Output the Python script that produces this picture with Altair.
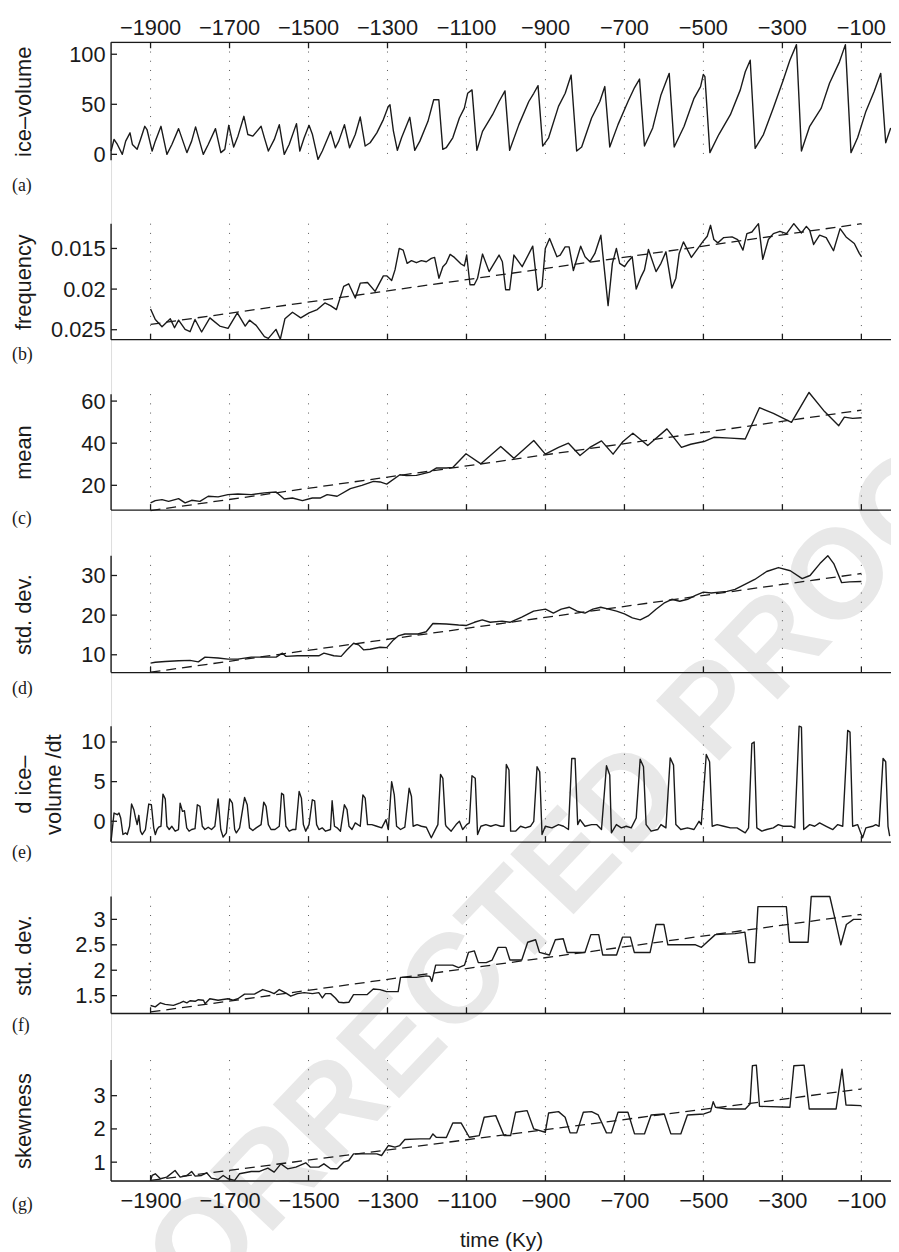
import altair as alt
import pandas as pd

# ---------------- data ----------------
X_TICKS = [-1900, -1700, -1500, -1300, -1100, -900, -700, -500, -300, -100]
X_LABELS = ["\u22121900", "\u22121700", "\u22121500", "\u22121300", "\u22121100",
            "\u2212900", "\u2212700", "\u2212500", "\u2212300", "\u2212100"]
X_DOMAIN = [-2000, -25]

ICE_VOLUME = [
    (-2000, 3.3), (-1992.5, 14.9), (-1984, 9.9), (-1971.5, 0), (-1963, 13.2), (-1952, 21.5),
    (-1946, 9.9), (-1934, 5), (-1925.5, 14.9), (-1914.6, 28), (-1909, 24.8), (-1896, 3.3),
    (-1888, 13.2), (-1873.6, 28), (-1858.6, 0), (-1846, 9.9), (-1829, 25.7), (-1808, 1.7),
    (-1796, 13.2), (-1786, 27.4), (-1766.5, 0), (-1754, 9.9), (-1735.6, 25.7), (-1722, 1.7),
    (-1712, 5), (-1702, 29), (-1689.5, 7.3), (-1678.7, 18.2), (-1663.6, 38), (-1653.6, 19.8),
    (-1641, 18.2), (-1620, 28), (-1611.7, 16.5), (-1601.7, 3.3), (-1586.6, 14.9), (-1574, 29.7),
    (-1561.5, 0), (-1549, 9.9), (-1530.5, 30.7), (-1522, 3.3), (-1511, 16.5), (-1498.7, 29),
    (-1490, 19.8), (-1476, -5), (-1465, 3.3), (-1444, 23), (-1432, 6.6), (-1423.4, 13.2),
    (-1409, 29.7), (-1396, 6.6), (-1381.6, 19.8), (-1369, 37.3), (-1356.5, 8.3), (-1344, 11.6),
    (-1327, 21.5), (-1310.5, 34.7), (-1298, 47.9), (-1293.7, 49.5), (-1285, 23.1), (-1275, 4),
    (-1264.4, 16.5), (-1243.5, 37), (-1231, 4), (-1218, 13.2), (-1197.5, 33), (-1183, 54.5),
    (-1170, 54.5), (-1160, 5), (-1151.4, 6.6), (-1134.7, 16.5), (-1118, 36.3), (-1105.4, 46.2),
    (-1097, 61), (-1086, 64.4), (-1073.6, 4), (-1059.4, 23), (-1034, 39.6), (-1017.5, 52.8),
    (-1002.5, 63.4), (-990.7, 4), (-967.3, 29.7), (-942.2, 52.8), (-929.6, 61), (-918.8, 68.6),
    (-907, 8.3), (-892, 16.5), (-867, 47.9), (-850, 61), (-835, 79.2), (-821, 3.3),
    (-808.3, 7.3), (-783.2, 36.3), (-762.3, 52.8), (-749.7, 67.7), (-737.2, 7.3), (-716.3, 29.7),
    (-691, 52.8), (-674.4, 66.7), (-661.8, 75.2), (-649.3, 8.3), (-628.4, 26.4), (-607.5, 59.4),
    (-586.6, 80.9), (-574, 7.3), (-548.9, 28), (-523.8, 56), (-507.2, 67.7), (-500.3, 79.9),
    (-496.2, 77.6), (-483.6, 1.7), (-461, 19.8), (-431.7, 39.6), (-406.6, 64.4), (-394, 82.5),
    (-381.5, 94), (-369, 6), (-348, 19.8), (-323, 46.2), (-297.8, 74.3), (-281.1, 94),
    (-264.4, 109.6), (-251.8, 3.3), (-230.9, 28), (-201.6, 46.2), (-180.7, 71), (-155.5, 92.4),
    (-140.5, 109.6), (-126.3, 1.7), (-109.6, 16.5), (-88.6, 42.9), (-67.7, 62.7), (-51, 80.9),
    (-38.4, 11.6), (-25.8, 26.4),
]

FREQUENCY = [
    (-1900, 0.02244), (-1888, 0.02374), (-1871, 0.02463), (-1850, 0.02366), (-1839.3, 0.02476),
    (-1829, 0.02382), (-1812.5, 0.02496), (-1800, 0.02524), (-1787.4, 0.02374), (-1770.7, 0.02528),
    (-1749.8, 0.02354), (-1724.7, 0.02455), (-1703.8, 0.02484), (-1680.3, 0.02293), (-1660.3, 0.02455),
    (-1649.4, 0.02382), (-1632.6, 0.02447), (-1611.7, 0.02585), (-1601.7, 0.02606), (-1582.4, 0.02496),
    (-1571.5, 0.02618), (-1559.8, 0.02366), (-1540.6, 0.02285), (-1519.7, 0.02354), (-1498.7, 0.02293),
    (-1477.8, 0.02252), (-1458.6, 0.02171), (-1444.4, 0.02203), (-1429.3, 0.02252), (-1410.9, 0.01967),
    (-1398.3, 0.01935), (-1381.6, 0.0211), (-1369, 0.01927), (-1350.6, 0.01919), (-1331.4, 0.02028),
    (-1310.5, 0.01837), (-1302, 0.01837), (-1289.5, 0.01894), (-1281, 0.01764), (-1270.3, 0.015),
    (-1260.3, 0.0152), (-1250.3, 0.01683), (-1239.3, 0.0165), (-1226.8, 0.01675), (-1214.2, 0.0165),
    (-1201.7, 0.01663), (-1189, 0.01622), (-1180.7, 0.0161), (-1169.8, 0.01866), (-1159.8, 0.01724),
    (-1151.4, 0.01683), (-1141.4, 0.01573), (-1130.5, 0.0161), (-1113.7, 0.01691), (-1105.4, 0.01715),
    (-1099.5, 0.01581), (-1091.1, 0.01947), (-1080.3, 0.01947), (-1071.9, 0.01866), (-1059.4, 0.01569),
    (-1042.6, 0.01785), (-1017.5, 0.01581), (-1009.1, 0.01663), (-1000.8, 0.02008), (-990.7, 0.02008),
    (-979.9, 0.01581), (-958.9, 0.01724), (-932.2, 0.01472), (-919.6, 0.02016), (-908.7, 0.01967),
    (-900.4, 0.015), (-889.5, 0.01378), (-871, 0.01602), (-862.7, 0.01581), (-850.2, 0.0148),
    (-840.1, 0.0148), (-829.3, 0.01772), (-810.8, 0.01472), (-799.8, 0.01602), (-787.3, 0.01663),
    (-774.8, 0.01561), (-759.7, 0.01337), (-741.4, 0.02203), (-730.5, 0.01683), (-720.4, 0.015),
    (-712.1, 0.01683), (-699.5, 0.01724), (-691.2, 0.01663), (-680.3, 0.01602), (-670.2, 0.02),
    (-657.7, 0.01846), (-649.3, 0.01764), (-639.2, 0.01512), (-620, 0.01785), (-607.5, 0.01683),
    (-594.9, 0.01541), (-579.8, 0.01988), (-569.8, 0.01866), (-561.4, 0.01561), (-550.6, 0.01419),
    (-530.5, 0.0161), (-511.2, 0.0148), (-498.7, 0.01398), (-490.3, 0.0135), (-481.9, 0.01215),
    (-473.6, 0.0139), (-463.5, 0.01431), (-448.5, 0.01366), (-427.5, 0.01358), (-413.3, 0.0139),
    (-399.9, 0.0152), (-389.9, 0.01317), (-377.3, 0.01297), (-360.6, 0.01195), (-349.7, 0.01634),
    (-335.5, 0.0139), (-322.9, 0.01317), (-306.2, 0.01289), (-289.5, 0.01317), (-271.1, 0.01195),
    (-251.8, 0.01309), (-239.3, 0.01228), (-230.9, 0.01276), (-220.9, 0.01451), (-205.8, 0.01337),
    (-189.1, 0.01366), (-170.6, 0.01528), (-153.9, 0.01256), (-138.8, 0.01358), (-117.9, 0.01439),
    (-105.3, 0.01561), (-99.5, 0.01602),
]
FREQUENCY_TREND = [(-1900, 0.02435), (-100, 0.01195)]

MEAN = [
    (-1900, 11.65), (-1888, 12.76), (-1871, 13.2), (-1854.4, 12.4), (-1829, 13.7), (-1812.5, 11.65),
    (-1796, 12.9), (-1775, 12.4), (-1754, 14.8), (-1729, 14.5), (-1704, 15.6), (-1679, 15.9),
    (-1645, 15.6), (-1612, 16.4), (-1582, 16.85), (-1561.5, 13.5), (-1540.6, 14), (-1515.5, 12.76),
    (-1490.4, 14), (-1469.5, 14), (-1452.7, 15.6), (-1427.6, 14.8), (-1394, 18.4), (-1364.9, 20),
    (-1335.6, 21.9), (-1318.8, 21.6), (-1302, 20.6), (-1268.6, 25), (-1251.9, 24.6), (-1226.8, 24.7),
    (-1193.3, 26.3), (-1176.6, 28.2), (-1151.4, 28.2), (-1134.7, 28.5), (-1101.2, 35), (-1063.5, 30.2),
    (-1013.3, 38.4), (-979.9, 32.9), (-929.6, 41.3), (-900.4, 34.8), (-866.9, 38), (-841.8, 40),
    (-812.5, 34.2), (-787.5, 38), (-758.1, 41.1), (-728.8, 34.8), (-703.7, 40.8), (-678.6, 44.7),
    (-641, 38.9), (-592.4, 46.8), (-555.6, 38), (-532.2, 39.5), (-498.7, 40.8), (-473.6, 42.8),
    (-431.7, 42.4), (-394, 42), (-358.1, 56.85), (-322.9, 54.2), (-277, 49.9), (-232.6, 64.1),
    (-193.2, 55), (-157.3, 48.3), (-143.1, 52.4), (-122.1, 51.8), (-99.5, 52.1),
]
MEAN_TREND = [(-1900, 8.0), (-100, 55.7)]

STD_DEV = [
    (-1900, 7.9), (-1888, 8.1), (-1863, 8.3), (-1829, 8.5), (-1800, 8.6), (-1779, 8.2), (-1762, 9.4),
    (-1729, 9.2), (-1704, 8.9), (-1679, 8.9), (-1645, 9.4), (-1612, 9.4), (-1582, 9.4), (-1566, 10.4),
    (-1557, 9.6), (-1528, 9.75), (-1503, 9.75), (-1474, 9.75), (-1461, 10.4), (-1436, 9.75),
    (-1417.5, 9.6), (-1402.5, 11.25), (-1385.8, 12.9), (-1373, 12.5), (-1360.7, 11.25), (-1344, 11.4),
    (-1319, 11.9), (-1302, 11.8), (-1285, 13.75), (-1273, 14.75), (-1256, 15.25), (-1223, 15.25),
    (-1202, 15.8), (-1185, 17.9), (-1151, 17.75), (-1120, 17.5), (-1100, 17.4), (-1080, 18.2),
    (-1060, 18.8), (-1040, 18.2), (-1010, 18.5), (-990, 18.2), (-960, 19.5), (-930, 21),
    (-900, 21.5), (-880, 20.5), (-860, 21.5), (-840, 22), (-820, 21), (-800, 20.5), (-780, 21.5),
    (-760, 22), (-740, 21.5), (-720, 21), (-700, 20.3), (-680, 19.3), (-660, 18.8), (-640, 19.8),
    (-620, 21.5), (-600, 23), (-580, 24), (-560, 23.5), (-540, 24), (-520, 25), (-500, 25.8),
    (-480, 25.6), (-460, 25.8), (-440, 26), (-420, 26.5), (-400, 27.5), (-370, 29), (-340, 31),
    (-310, 32), (-280, 31.2), (-250, 29.2), (-230, 30), (-205, 33), (-185, 35), (-170, 33),
    (-150, 28.2), (-130, 28.4), (-100, 28.5),
]
STD_DEV_TREND = [(-1900, 5.6), (-100, 30.5)]

DVDT = [
    (-2000, -2.5), (-1992.5, 1.04), (-1984.1, 0.83), (-1979.9, 1.04), (-1975.7, 0.42), (-1969.9, -1.67),
    (-1963.2, -1.46), (-1959, -1.67), (-1953.1, -0.63), (-1948.1, 2.17), (-1942.3, 1.46), (-1938.1, 0.42),
    (-1933.9, -0.42), (-1929.7, 0.75), (-1925.5, -1.25), (-1921.3, -1.67), (-1913, -1.04), (-1904.6, 2.17),
    (-1897.9, 2.08), (-1892, -0.83), (-1887.9, -1.67), (-1883.7, -1.04), (-1879.5, -0.75), (-1873.6, -0.63),
    (-1868.6, 3.42), (-1862.8, 2.83), (-1858.6, -0.63), (-1852.7, -1.04), (-1846, -0.63), (-1837.7, -1.25),
    (-1829.3, -1.04), (-1825.1, 2.29), (-1819.2, 1.25), (-1814.2, 1.33), (-1808.4, -0.83), (-1802.5, -1.25),
    (-1795.8, -1.04), (-1787.4, -0.92), (-1781.6, 2.08), (-1774.9, 1.88), (-1769, -0.63), (-1762.3, -1.04),
    (-1754, -0.75), (-1745.6, -1.04), (-1737.2, -0.63), (-1728.9, 2.83), (-1722.2, -1.04), (-1716.3, -2.0),
    (-1708, -1.46), (-1699.6, 2.83), (-1692.9, 2.29), (-1687, -1.04), (-1682.8, -1.46), (-1674.5, -0.83),
    (-1661.9, 3.0), (-1655.2, 2.08), (-1649.4, -0.83), (-1641, -1.17), (-1632.6, -0.83), (-1620.1, -0.42),
    (-1613.4, 2.42), (-1607.5, 1.88), (-1601.7, -0.42), (-1595, -1.04), (-1584.9, -1.04), (-1574, -0.63),
    (-1568.2, 3.54), (-1563.2, 3.33), (-1557.3, -0.63), (-1548.9, -1.25), (-1540.6, -1.04), (-1532.2, -1.04),
    (-1523.8, 3.75), (-1518, 2.92), (-1513, -0.42), (-1507.1, -1.25), (-1498.7, -0.42), (-1490.4, 2.71),
    (-1484.5, 2.58), (-1479.5, -0.42), (-1473.6, -1.04), (-1465.3, -0.83), (-1456.9, -1.25), (-1444.4, -1.04),
    (-1440.2, 2.58), (-1434.3, -0.63), (-1427.6, -0.83), (-1419.2, -1.25), (-1409.2, 2.08), (-1402.5, 1.46),
    (-1397.5, -0.63), (-1389.9, -1.04), (-1381.6, -0.21), (-1369, -0.63), (-1362.3, 3.33), (-1356.5, 2.92),
    (-1350.6, -0.42), (-1339.7, -0.42), (-1327.2, -0.63), (-1314.6, -0.83), (-1303.8, 0.21), (-1297.9, -1.04),
    (-1289.5, 5.0), (-1282.8, 3.33), (-1277, -0.63), (-1266.9, -1.04), (-1256.1, -0.75), (-1245.2, 4.17),
    (-1239.3, 3.13), (-1235.1, -0.63), (-1225.1, -0.42), (-1214.2, -0.63), (-1201.7, -0.75), (-1189.1, -2.08),
    (-1180.8, -1.25), (-1172.4, -0.42), (-1165.7, 5.92), (-1159.8, 5.42), (-1153.1, -0.42),
    (-1151.4, -0.63), (-1138.8, -1.25), (-1126.3, -0.42), (-1117.9, 0), (-1109.6, -1.04), (-1099.5, -0.42),
    (-1092.8, -0.21), (-1086.1, 5.75), (-1077.8, 5.42), (-1071.9, -1.67), (-1063.5, -0.63), (-1051, -0.42),
    (-1038.4, -0.63), (-1025.9, -0.42), (-1013.3, -0.63), (-1005, -0.63), (-999.1, 7.17), (-992.4, 6.46),
    (-988.2, -1.25), (-975.7, -1.25), (-963.1, -0.63), (-950.6, -0.83), (-938, -0.63), (-929.6, 0),
    (-921.3, 6.88), (-914.6, 6.25), (-908.7, -1.67), (-900.4, -0.63), (-883.6, -0.83), (-866.9, -0.42),
    (-854.3, -0.63), (-841.8, -1.04), (-833.4, 7.92), (-825, 7.92), (-818.4, -0.42), (-812.5, 0.21),
    (-800, -0.63), (-783.2, -0.42), (-770.6, -0.42), (-758.1, -1.04), (-745.5, 7.0), (-737.2, 5.83),
    (-733, -1.46), (-720.4, -0.42), (-707.9, -0.83), (-695.3, -0.63), (-682.8, -0.83), (-670.2, 0.42),
    (-660.2, 7.83), (-651.8, 6.88), (-645.1, -0.42), (-632.6, -1.25), (-615.8, -1.04), (-607.5, -0.42),
    (-595, -0.83), (-584.1, 8.0), (-575.7, 7.08), (-569.8, -0.42), (-557.3, -1.04), (-540.5, -0.83),
    (-523.8, -1.04), (-511.2, 0), (-505.4, -0.42), (-492.8, 8.42), (-484.4, 7.5), (-477.8, -0.63),
    (-465.2, -0.42), (-448.5, -0.63), (-431.7, -0.83), (-415, -0.83), (-394.1, -1.46), (-385.7, -0.83),
    (-377.4, 9.79), (-371.5, 10.0), (-364.8, -0.83), (-352.2, -1.25), (-339.7, -1.04), (-323, -0.83),
    (-310.4, -0.42), (-297.8, -0.63), (-285.3, -0.63), (-276.9, -0.63), (-268.6, -0.83), (-257.7, 12.0),
    (-251.8, 11.88), (-246, -1.04), (-230.9, -0.42), (-218.3, -0.63), (-205.8, -0.21), (-189.1, -0.63),
    (-172.3, -1.04), (-159.8, -0.42), (-147.2, -0.63), (-134.7, 11.46), (-128.8, 11.25), (-122.1, -0.63),
    (-109.6, -0.42), (-97, -2.08), (-88.6, -0.83), (-71.9, -0.63), (-63.5, -0.42), (-55.1, -0.63),
    (-45.1, 7.92), (-38.4, 7.5), (-32.6, -0.63), (-28.3, -1.88),
]

STD_DEV_DVDT = [
    (-1900, 1.307), (-1888, 1.28), (-1875, 1.36), (-1863, 1.33), (-1842, 1.31), (-1825, 1.36),
    (-1817, 1.39), (-1808, 1.36), (-1800, 1.40), (-1787, 1.39), (-1779, 1.42), (-1766, 1.41),
    (-1762, 1.34), (-1750, 1.44), (-1729, 1.41), (-1704, 1.44), (-1691, 1.41), (-1679, 1.44),
    (-1662, 1.53), (-1637, 1.53), (-1616, 1.62), (-1599, 1.58), (-1587, 1.54), (-1574, 1.62),
    (-1557, 1.55), (-1545, 1.49), (-1528, 1.54), (-1511, 1.56), (-1490, 1.54), (-1474, 1.56),
    (-1465, 1.455), (-1457, 1.54), (-1444, 1.54), (-1432, 1.455), (-1423, 1.37), (-1411, 1.36),
    (-1398, 1.37), (-1386, 1.52), (-1373, 1.52), (-1352, 1.52), (-1336, 1.63), (-1319, 1.62),
    (-1302, 1.58), (-1273, 1.58), (-1267, 1.86), (-1227, 1.86), (-1202, 1.89), (-1193, 1.88),
    (-1187.6, 1.78), (-1178, 2.1), (-1151, 2.1), (-1135, 2.1), (-1120, 2.05), (-1105, 2.1),
    (-1095, 2.35), (-1080, 2.38), (-1070, 2.15), (-1050, 2.15), (-1035, 2.2), (-1020, 2.45),
    (-1000, 2.45), (-990, 2.2), (-960, 2.2), (-945, 2.55), (-925, 2.6), (-915, 2.35), (-890, 2.3),
    (-875, 2.6), (-855, 2.62), (-845, 2.35), (-800, 2.35), (-785, 2.7), (-765, 2.7), (-755, 2.3),
    (-720, 2.3), (-705, 2.65), (-685, 2.65), (-675, 2.35), (-635, 2.35), (-620, 2.9), (-600, 2.9),
    (-590, 2.5), (-520, 2.5), (-505, 2.45), (-470, 2.7), (-420, 2.72), (-395, 2.75), (-385, 2.15),
    (-370, 2.15), (-362, 3.25), (-290, 3.25), (-282, 2.55), (-235, 2.55), (-227, 3.45), (-180, 3.45),
    (-165, 2.95), (-152, 2.5), (-138, 2.9), (-120, 3.0), (-100, 3.0),
]
STD_DEV_DVDT_TREND = [(-1900, 1.18), (-100, 3.1)]

SKEWNESS = [
    (-1900, 0.45), (-1896, 0.6), (-1888, 0.65), (-1875, 0.5), (-1859, 0.55), (-1838, 0.75),
    (-1825, 0.55), (-1808, 0.6), (-1796, 0.72), (-1787, 0.58), (-1771, 0.6), (-1758, 0.68),
    (-1746, 0.52), (-1729, 0.48), (-1716, 0.6), (-1704, 0.5), (-1687, 0.45), (-1675, 0.65),
    (-1645, 0.72), (-1624, 0.72), (-1603, 0.82), (-1587, 0.7), (-1570, 0.95), (-1553, 0.8),
    (-1532, 0.85), (-1507, 0.98), (-1495, 0.85), (-1474, 0.85), (-1461, 0.95), (-1444, 0.8),
    (-1427, 0.8), (-1411, 1.0), (-1398, 1.05), (-1386, 1.25), (-1361, 1.25), (-1327, 1.25),
    (-1315, 1.2), (-1298, 1.5), (-1281, 1.45), (-1269, 1.5), (-1256, 1.68), (-1218, 1.7),
    (-1193, 1.7), (-1185, 1.85), (-1176.6, 1.75), (-1151, 1.74), (-1134.7, 2.18), (-1113.7, 2.18),
    (-1092.8, 1.75), (-1067.7, 1.8), (-1055.2, 2.35), (-1025.9, 2.4), (-1005, 1.8), (-988.2, 1.8),
    (-975.7, 2.5), (-946.4, 2.55), (-929.6, 2.0), (-900.4, 1.9), (-892, 2.48), (-866.9, 2.52),
    (-850.2, 2.35), (-837.6, 1.88), (-820.9, 1.88), (-804.1, 2.5), (-783.2, 2.52), (-766.4, 2.42),
    (-745.5, 1.88), (-733, 1.88), (-716.3, 2.5), (-691.2, 2.5), (-674.4, 1.85), (-649.3, 1.85),
    (-632.5, 2.42), (-599.1, 2.45), (-582.4, 1.85), (-557.3, 1.85), (-540.5, 2.42), (-498.7, 2.45),
    (-481.9, 2.52), (-475.2, 2.82), (-469.4, 2.65), (-440, 2.6), (-394, 2.6), (-382, 2.75),
    (-376, 3.9), (-366, 3.92), (-358, 2.68), (-281, 2.65), (-271, 3.9), (-245, 3.92), (-232, 2.6),
    (-164, 2.6), (-149, 3.8), (-139, 2.72), (-100, 2.7),
]
SKEWNESS_TREND = [(-1900, 0.45), (-100, 3.2)]

# ---------------- style / geometry ----------------
FONT = "Liberation Sans"
SERIF = "Liberation Serif"
INK = "#1a1a1a"
PLOT_W = 787
PLOT_H = 1149
XS = alt.Scale(domain=X_DOMAIN, nice=False, zero=False)

# one shared bottom axis definition, used by every x encoding so they merge cleanly
XAXIS = alt.Axis(orient="bottom", values=X_TICKS, format="d", tickSize=0, domain=False,
                 grid=False, labelPadding=10, labelFont=FONT, labelFontSize=22,
                 labelColor=INK, title="time (Ky)", titleFont=FONT, titleFontSize=21,
                 titleFontWeight="normal", titleColor=INK, titleY=60,
                 titleBaseline="middle", zindex=2)


def panel(series, trend, dom, rng, yticks, yfmt, title, title_x, tag, tag_dy,
          top_frame=False, bottom_frame=True, line_h=26):
    # dom = (value at bottom edge, value at top edge); rng = (bottom px, top px)
    bot, top = dom
    ys = alt.Scale(domain=[bot, top], range=rng, nice=False, zero=False)
    ymid = (rng[0] + rng[1]) / 2
    yaxis = alt.Axis(orient="left", values=yticks, format=yfmt, tickSize=0, domain=False,
                     grid=False, labelPadding=6, labelFont=FONT, labelFontSize=22,
                     labelColor=INK, title=title, titleFont=FONT, titleFontSize=22,
                     titleFontWeight="normal", titleColor=INK, titleX=title_x, titleY=ymid,
                     titleAngle=270, titleBaseline="middle", titleLineHeight=line_h, zindex=2)

    def X(field):
        return alt.X(field, scale=XS, axis=XAXIS)

    def Y(field):
        return alt.Y(field, scale=ys, axis=yaxis)

    layers = []
    grid_df = pd.DataFrame({"tick": X_TICKS, "bot": bot, "top": top})
    layers.append(
        alt.Chart(grid_df).mark_rule(color="#555555", strokeWidth=1, strokeDash=[1, 8.3]).encode(
            x=X("tick:Q"), y=Y("top:Q"), y2="bot:Q")
    )
    df = pd.DataFrame(series, columns=["t", "v"])
    layers.append(
        alt.Chart(df).mark_line(color=INK, strokeWidth=1.4, strokeJoin="round").encode(
            x=X("t:Q"), y=Y("v:Q"))
    )
    if trend is not None:
        tdf = pd.DataFrame(trend, columns=["t", "v"])
        layers.append(
            alt.Chart(tdf).mark_line(color=INK, strokeWidth=1.3, strokeDash=[10, 6]).encode(
                x=X("t:Q"), y=Y("v:Q"))
        )
    frame_df = pd.DataFrame({"x0": [X_DOMAIN[0]], "x1": [X_DOMAIN[1]], "bot": [bot], "top": [top]})
    layers.append(
        alt.Chart(frame_df).mark_rule(color=INK, strokeWidth=1.4).encode(
            x=X("x0:Q"), y=Y("bot:Q"), y2="top:Q")
    )
    if bottom_frame:
        layers.append(
            alt.Chart(frame_df).mark_rule(color=INK, strokeWidth=1.4).encode(
                x=X("x0:Q"), x2="x1:Q", y=Y("bot:Q"))
        )
        tick_df = pd.DataFrame({"tick": X_TICKS, "bot": bot})
        layers.append(
            alt.Chart(tick_df).mark_rule(color=INK, strokeWidth=1.3, y2Offset=-6).encode(
                x=X("tick:Q"), y=Y("bot:Q"), y2="bot:Q")
        )
    if top_frame:
        layers.append(
            alt.Chart(frame_df).mark_rule(color=INK, strokeWidth=1.4).encode(
                x=X("x0:Q"), x2="x1:Q", y=Y("top:Q"))
        )
        ttick_df = pd.DataFrame({"tick": X_TICKS, "top": top, "label": X_LABELS})
        layers.append(
            alt.Chart(ttick_df).mark_rule(color=INK, strokeWidth=1.3, y2Offset=6).encode(
                x=X("tick:Q"), y=Y("top:Q"), y2="top:Q")
        )
        layers.append(
            alt.Chart(ttick_df).mark_text(font=FONT, fontSize=22, color=INK, baseline="alphabetic",
                                          dy=-7).encode(
                x=X("tick:Q"), y=Y("top:Q"), text="label:N")
        )
    ytick_df = pd.DataFrame({"yt": yticks, "x0": X_DOMAIN[0]})
    layers.append(
        alt.Chart(ytick_df).mark_rule(color=INK, strokeWidth=1.3, x2Offset=6).encode(
            x=X("x0:Q"), x2="x0:Q", y=Y("yt:Q"))
    )
    tag_df = pd.DataFrame({"tag": [tag], "x0": [X_DOMAIN[0]], "bot": [bot]})
    layers.append(
        alt.Chart(tag_df).mark_text(font=SERIF, fontSize=18, color=INK, align="left",
                                    baseline="middle", dx=-100, dy=tag_dy).encode(
            x=X("x0:Q"), y=Y("bot:Q"), text="tag:N")
    )
    return alt.layer(*layers)


watermark = alt.Chart(pd.DataFrame({"w": ["UNCORRECTED PROOF"]})).mark_text(
    font=FONT, fontSize=128, fontWeight="bold", color="#e8e8e8", angle=313.5,
    align="center", baseline="middle").encode(
    x=alt.value(382), y=alt.value(914), text="w:N")

pa = panel(ICE_VOLUME, None, (-5.9, 111.9), [119, 0], [0, 50, 100], "d", "ice\u2013volume",
           -88, "(a)", 26, top_frame=True, bottom_frame=False)
pb = panel(FREQUENCY, FREQUENCY_TREND, (0.02622, 0.01195), [300, 183], [0.015, 0.02, 0.025], "~g",
           "frequency", -88, "(b)", 16)
pc = panel(MEAN, MEAN_TREND, (8.24, 63.3), [472, 355], [20, 40, 60], "d", "mean", -88, "(c)", 9)
pd_ = panel(STD_DEV, STD_DEV_TREND, (5.5, 35), [636, 518], [10, 20, 30], "d", "std. dev.", -88,
            "(d)", 17)
pe = panel(DVDT, None, (-2.625, 12), [807, 690], [0, 5, 10], "d", ["d ice\u2013", "volume /dt"],
           -88, "(e)", 11, line_h=30)
pf = panel(STD_DEV_DVDT, STD_DEV_DVDT_TREND, (1.149, 3.448), [980, 862], [1.5, 2, 2.5, 3], "~g",
           "std. dev.", -88, "(f)", 13)
pg = panel(SKEWNESS, SKEWNESS_TREND, (0.433, 4.07), [1149, 1027], [1, 2, 3], "d", "skewness", -88,
           "(g)", 24)

chart = alt.layer(watermark, pa, pb, pc, pd_, pe, pf, pg).resolve_scale(
    y="independent"
).properties(
    width=PLOT_W, height=PLOT_H,
    autosize=alt.AutoSizeParams(type="none"),
    padding={"left": 104, "top": 29, "right": 0, "bottom": 66},
).configure_view(stroke=None).configure(background="white")

chart.save("out.html", embed_options={"renderer": "svg", "actions": False})
